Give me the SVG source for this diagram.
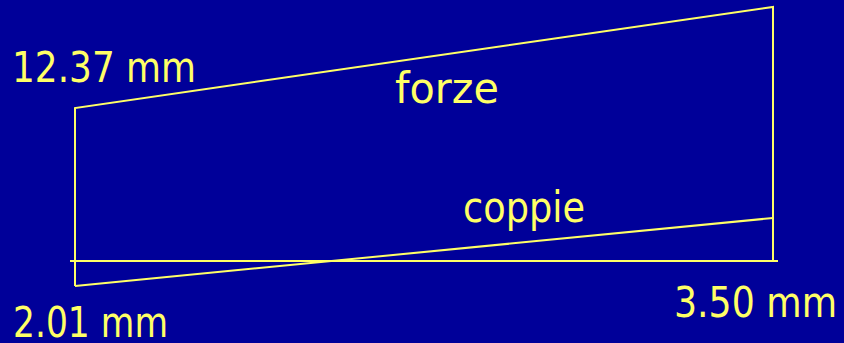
<svg xmlns="http://www.w3.org/2000/svg" width="844" height="343" viewBox="0 0 844 343">
<style>
.ln{stroke:#FFFF66;stroke-width:2;fill:none}
.t{fill:#FFFF66;font-family:"DejaVu Sans",sans-serif;font-size:42px}
</style>
<rect width="844" height="343" fill="#000099"/>
<g id="connectors">
<polyline class="ln" points="75,286 75,108 773,7 773,261"/>
<line class="ln" x1="70" y1="261" x2="778" y2="261"/>
<line class="ln" x1="75" y1="286" x2="773" y2="218"/>
</g>
<g id="label-1237"><text class="t" x="12" y="82" textLength="184" lengthAdjust="spacingAndGlyphs">12.37 mm</text></g>
<g id="label-201"><text class="t" x="13" y="337" textLength="155" lengthAdjust="spacingAndGlyphs">2.01 mm</text></g>
<g id="label-350"><text class="t" x="674" y="317" textLength="163" lengthAdjust="spacingAndGlyphs">3.50 mm</text></g>
<g id="label-forze"><text class="t" x="395" y="103" textLength="104" lengthAdjust="spacingAndGlyphs">forze</text></g>
<g id="label-coppie"><text class="t" x="463" y="222" textLength="122" lengthAdjust="spacingAndGlyphs">coppie</text></g>
</svg>
